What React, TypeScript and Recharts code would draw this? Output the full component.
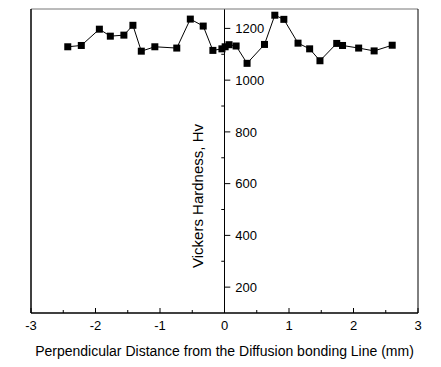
import { LineChart, Line, XAxis, YAxis, ReferenceLine } from 'recharts';

// perpendicular distance from bonding line (mm)
const distance = [
  -2.43, -2.22, -1.94, -1.77, -1.56, -1.42, -1.29, -1.08, -0.74, -0.53, -0.33, -0.18, -0.04, 0.01,
  0.07, 0.18, 0.35, 0.62, 0.78, 0.92, 1.14, 1.32, 1.48, 1.74, 1.83, 2.08, 2.32, 2.6,
];
// Vickers hardness (Hv)
const hardness = [
  1129, 1134, 1197, 1170, 1174, 1212, 1112, 1129, 1124, 1236, 1209, 1115, 1121, 1129,
  1137, 1132, 1065, 1138, 1251, 1235, 1143, 1121, 1075, 1142, 1134, 1124, 1113, 1135,
];

const xTicks = [-3, -2.5, -2, -1.5, -1, -0.5, 0, 0.5, 1, 1.5, 2, 2.5, 3];
const yMajor = [200, 400, 600, 800, 1000, 1200];
const yMinor = [300, 500, 700, 900, 1100];
const yFrameTicks = [200, 300, 400, 500, 600, 700, 800, 900, 1000, 1100, 1200];

const data = distance.map((d, i) => ({ d, hv: hardness[i] }));

const FONT = 'Liberation Sans, Arial, sans-serif';

function SquareDot(props: any) {
  const { cx, cy, index } = props;
  if (cx == null || cy == null) return null;
  return <rect key={`sq-${index}`} x={cx - 3.5} y={cy - 3.5} width={7} height={7} fill="#000" />;
}

function BottomTick(props: any) {
  const { x, y, payload } = props;
  const v: number = payload.value;
  const major = Number.isInteger(v);
  return (
    <g>
      <line x1={x} y1={y} x2={x} y2={y - (major ? 5 : 3)} stroke="#000" strokeWidth={1} />
      {major && (
        <text x={x} y={y + 17} textAnchor="middle" fontSize={13} fontFamily={FONT} fill="#000">
          {v}
        </text>
      )}
    </g>
  );
}

function YTitle(props: any) {
  const vb = props.viewBox;
  const cx = vb.x - 22;
  const cy = vb.y + vb.height / 2 + 35;
  return (
    <text
      x={cx}
      y={cy}
      transform={`rotate(-90, ${cx}, ${cy})`}
      textAnchor="middle"
      fontSize={15}
      fontFamily={FONT}
      fill="#000"
    >
      Vickers Hardness, Hv
    </text>
  );
}

export default function App() {
  return (
    <div style={{ position: 'absolute', left: 0, top: 0, background: '#fff' }}>
      <LineChart width={441} height={367} data={data} margin={{ top: 9, right: 23, left: 31, bottom: 0 }}>
        <XAxis
          xAxisId="bottom"
          dataKey="d"
          type="number"
          domain={[-3, 3]}
          ticks={xTicks}
          interval={0}
          height={54}
          tickSize={0}
          tickMargin={0}
          tickLine={false}
          axisLine={{ stroke: '#000', strokeWidth: 1.5 }}
          tick={<BottomTick />}
          label={{
            value: 'Perpendicular Distance from the Diffusion bonding Line (mm)',
            position: 'insideBottom',
            offset: 11,
            fontSize: 14,
            fontFamily: FONT,
            fill: '#000',
          }}
        />
        <XAxis
          xAxisId="top"
          orientation="top"
          type="number"
          domain={[-3, 3]}
          ticks={xTicks}
          mirror
          tick={false}
          tickSize={3}
          tickLine={{ stroke: '#666' }}
          axisLine={{ stroke: '#777', strokeWidth: 1 }}
        />
        <YAxis
          yAxisId="left"
          type="number"
          domain={[100, 1275]}
          ticks={yFrameTicks}
          mirror
          tick={false}
          tickSize={3}
          tickLine={{ stroke: '#000' }}
          axisLine={{ stroke: '#000', strokeWidth: 1.5 }}
        />
        <YAxis
          yAxisId="right"
          orientation="right"
          type="number"
          domain={[100, 1275]}
          mirror
          tick={false}
          tickLine={false}
          axisLine={{ stroke: '#000', strokeWidth: 1 }}
        />
        <ReferenceLine
          xAxisId="bottom"
          yAxisId="left"
          x={0}
          stroke="#000"
          strokeWidth={1}
          label={<YTitle />}
        />
        {yMajor.map((v) => (
          <ReferenceLine
            key={`maj-${v}`}
            xAxisId="bottom"
            yAxisId="left"
            segment={[{ x: 0, y: v }, { x: 0.09, y: v }]}
            stroke="#000"
            strokeWidth={1}
            label={{ value: String(v), position: 'right', offset: 5, fontSize: 13, fontFamily: FONT, fill: '#000' }}
          />
        ))}
        {yMinor.map((v) => (
          <ReferenceLine
            key={`min-${v}`}
            xAxisId="bottom"
            yAxisId="left"
            segment={[{ x: -0.05, y: v }, { x: 0, y: v }]}
            stroke="#000"
            strokeWidth={1}
          />
        ))}
        <Line
          xAxisId="bottom"
          yAxisId="left"
          dataKey="hv"
          type="linear"
          stroke="#000"
          strokeWidth={1}
          dot={SquareDot}
          activeDot={false}
          isAnimationActive={false}
        />
      </LineChart>
    </div>
  );
}
